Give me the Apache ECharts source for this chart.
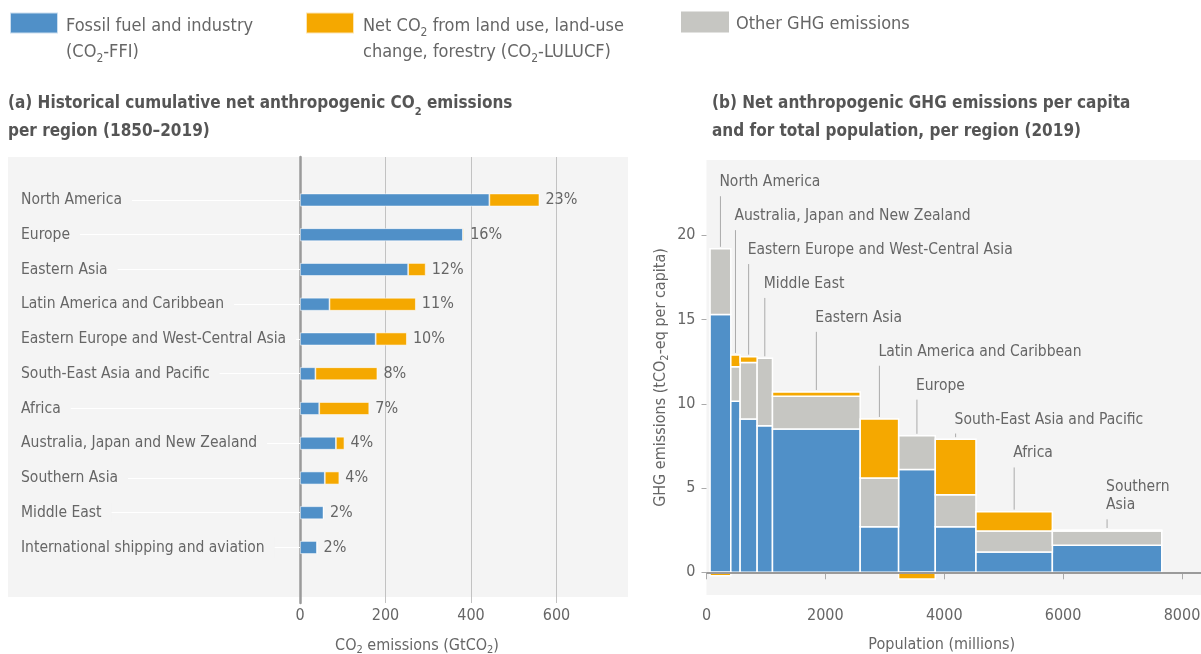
<!DOCTYPE html>
<html>
<head>
<meta charset="utf-8">
<script src="https://cdn.jsdelivr.net/npm/echarts@6/dist/echarts.min.js"></script>
<style>
  html, body { margin: 0; padding: 0; background: #ffffff; }
  #chart { width: 1201px; height: 654px; }
</style>
</head>
<body>
<div id="chart"></div>
<script>
// ---------- Panel (a) data ----------
const regionsA = ['North America', 'Europe', 'Eastern Asia', 'Latin America and Caribbean',
  'Eastern Europe and West-Central Asia', 'South-East Asia and Pacific', 'Africa',
  'Australia, Japan and New Zealand', 'Southern Asia', 'Middle East', 'International shipping and aviation'];
const ffiA = [443, 381, 253, 69, 177, 36, 45, 84, 58, 55, 40];       // GtCO2
const lulucfA = [117, 3, 41, 202, 73, 145, 117, 20, 34, 0, 0];       // GtCO2
const shareA = [23, 16, 12, 11, 10, 8, 7, 4, 4, 2, 2];               // % of total
const ticksA = [0, 200, 400, 600];

// ---------- Panel (b) data ----------
const regionsB = ['North America', 'Australia, Japan and New Zealand', 'Eastern Europe and West-Central Asia',
  'Middle East', 'Eastern Asia', 'Latin America and Caribbean', 'Europe', 'South-East Asia and Pacific',
  'Africa', 'Southern\nAsia'];
const populationB = [349, 157, 286, 258, 1476, 646, 617, 685, 1285, 1841];   // millions
const ffiB = [15.3, 10.15, 9.1, 8.7, 8.5, 2.7, 6.1, 2.7, 1.2, 1.6];           // tCO2-eq per capita
const otherB = [3.9, 2.05, 3.35, 4.0, 1.95, 2.9, 2.0, 1.9, 1.25, 0.85];
const lulucfB = [-0.2, 0.7, 0.35, 0.0, 0.25, 3.5, -0.4, 3.3, 1.15, 0.06];
const popStart = 60;          // population position where the first column begins
const xTicksB = [0, 2000, 4000, 6000, 8000];
const yTicksB = [0, 5, 10, 15, 20];

// ---------- styles ----------
const FONT = "'DejaVu Sans Condensed', 'DejaVu Sans', sans-serif";
const FS = 16;      // axis numbers
const FL = 15.5;    // region labels
const C_FFI = '#5090c8', C_LUC = '#f5a800', C_OTH = '#c6c6c2';
const TXT = '#666666';
const SUB = { fontSize: 11, lineHeight: 14, verticalAlign: 'bottom', fontFamily: FONT, color: TXT };

// ---------- panel (b) geometry from data ----------
let acc = popStart;
const colsB = populationB.map(p => { const a = acc; acc += p; return [a, acc]; });
const ffiRects = colsB.map((c, i) => [c[0], c[1], 0, ffiB[i]]);
const othRects = colsB.map((c, i) => [c[0], c[1], ffiB[i], ffiB[i] + otherB[i]]);
const lucRects = colsB.map((c, i) => lulucfB[i] >= 0
  ? [c[0], c[1], ffiB[i] + otherB[i], ffiB[i] + otherB[i] + lulucfB[i]]
  : [c[0], c[1], lulucfB[i], 0]);
const labelPts = colsB.map((c, i) => [(c[0] + c[1]) / 2, ffiB[i] + otherB[i] + Math.max(0, lulucfB[i]), i]);

function rectRenderer(color) {
  return function (params, api) {
    const a = api.coord([api.value(0), api.value(3)]);
    const b = api.coord([api.value(1), api.value(2)]);
    if (Math.abs(b[1] - a[1]) < 0.3) return null;
    return {
      type: 'rect',
      shape: { x: a[0], y: a[1], width: b[0] - a[0], height: b[1] - a[1] },
      style: { fill: color, stroke: '#ffffff', lineWidth: 1.5 }
    };
  };
}

const LABEL_TOP = 23.15, LABEL_STEP = 33.9, LINE_H = 18;
function labelRenderer(params, api) {
  const i = api.value(2);
  const p = api.coord([api.value(0), api.value(1)]);
  const base = api.coord([0, LABEL_TOP])[1];
  const ty = base + i * LABEL_STEP;
  const text = regionsB[i];
  const nLines = text.split('\n').length;
  return {
    type: 'group',
    children: [
      { type: 'line', shape: { x1: p[0], y1: ty + 14 + (nLines - 1) * LINE_H, x2: p[0], y2: p[1] - 2 },
        style: { stroke: '#aaaaaa', lineWidth: 1 } },
      { type: 'text', x: p[0] - 1, y: ty - LINE_H / 2,
        style: { text: text, fill: TXT, fontSize: FL, fontFamily: FONT, lineHeight: LINE_H,
                 align: 'left', verticalAlign: 'top' } }
    ]
  };
}

const legendNames = {
  ffi: '{gap| }\nFossil fuel and industry\n(CO{s|2}-FFI)',
  luc: '{gap| }\nNet CO{s|2} from land use, land-use\nchange, forestry (CO{s|2}-LULUCF)',
  oth: 'Other GHG emissions'
};
function legendOf(name, left, top, pad) {
  return {
    data: [name], left: left, top: top, padding: 0, itemWidth: 48, itemHeight: 21, icon: 'rect',
    selectedMode: false, formatter: n => legendNames[n],
    textStyle: { fontSize: 18, fontFamily: FONT, color: TXT, lineHeight: 26, padding: pad,
      rich: { s: { fontSize: 12, lineHeight: 17, verticalAlign: 'bottom', fontFamily: FONT, color: TXT },
              gap: { fontSize: 10, lineHeight: 32 } } }
  };
}

const titleStyle = {
  fontSize: 17, fontWeight: 'bold', fontFamily: FONT, color: '#555555', lineHeight: 28,
  rich: { s: { fontSize: 11, fontWeight: 'bold', lineHeight: 20, verticalAlign: 'bottom', fontFamily: FONT, color: '#555555' } }
};

const chart = echarts.init(document.getElementById('chart'), null, { renderer: 'canvas' });
chart.setOption({
  animation: false,
  backgroundColor: '#ffffff',
  title: [
    { text: '(a) Historical cumulative net anthropogenic CO{s|2} emissions\nper region (1850–2019)',
      left: 8, top: 90, padding: 0, textStyle: titleStyle },
    { text: '(b) Net anthropogenic GHG emissions per capita\nand for total population, per region (2019)',
      left: 712, top: 90, padding: 0, textStyle: titleStyle }
  ],
  legend: [legendOf('ffi', 9, -19, [0, 0, 0, 3]), legendOf('luc', 305, -19, [0, 0, 0, 4]),
           legendOf('oth', 681, 7, [4, 0, 0, 2])],
  graphic: {
    z: -10,
    elements: [{ type: 'rect', z: -10, shape: { x: 8, y: 157, width: 620, height: 440 }, style: { fill: '#f4f4f4' } }]
  },
  grid: [
    { left: 300, top: 182.6, width: 342, height: 382.25, outerBoundsMode: 'none' },
    { left: 300, top: 157, width: 342, height: 446, outerBoundsMode: 'none' },
    { left: 706.5, top: 160, width: 494.5, height: 435, show: true, backgroundColor: '#f4f4f4', borderWidth: 0,
      outerBoundsMode: 'none' }
  ],
  xAxis: [
    { gridIndex: 0, type: 'value', min: 0, max: 800, show: false },
    { gridIndex: 1, type: 'value', min: 0, max: 800, interval: 200,
      axisLine: { show: false }, axisTick: { show: false },
      axisLabel: { customValues: ticksA, color: TXT, fontSize: FS, fontFamily: FONT, margin: 5 },
      splitLine: { show: true, lineStyle: { width: 1, color: ['#9a9a9a', '#c2c2c2', '#c2c2c2', '#c2c2c2', 'rgba(0,0,0,0)'] } },
      name: 'CO{s|2} emissions (GtCO{s|2})', nameLocation: 'middle', nameGap: 33,
      nameTextStyle: { fontSize: FS, fontFamily: FONT, color: TXT, lineHeight: 20, padding: [0, 108, 0, 0], rich: { s: SUB } } },
    { gridIndex: 2, type: 'value', min: 0, max: 8320,
      axisLine: { show: false },
      axisTick: { show: true, customValues: xTicksB, length: 7, lineStyle: { color: '#aaaaaa' } },
      axisLabel: { customValues: xTicksB, color: TXT, fontSize: FS, fontFamily: FONT, margin: 13,
                   formatter: v => String(v) },
      splitLine: { show: false },
      name: 'Population (millions)', nameLocation: 'middle', nameGap: 42,
      nameTextStyle: { fontSize: FS, fontFamily: FONT, color: TXT, padding: [0, 24, 0, 0] } }
  ],
  yAxis: [
    { gridIndex: 0, type: 'category', data: regionsA, inverse: true,
      axisLine: { show: false },
      axisTick: { show: true, alignWithLabel: true, length: 279, lineStyle: { color: '#ffffff', width: 1 } },
      axisLabel: { align: 'left', margin: 279, color: TXT, fontSize: FL, fontFamily: FONT,
                   backgroundColor: '#f4f4f4', padding: [2, 10, 2, 0] } },
    { gridIndex: 1, type: 'value', min: 0, max: 1,
      axisLine: { show: true, lineStyle: { color: '#9a9a9a', width: 2.5 } },
      axisTick: { show: false }, axisLabel: { show: false }, splitLine: { show: false } },
    { gridIndex: 2, type: 'value', min: -1.347, max: 24.47,
      axisLine: { show: false },
      axisTick: { show: true, customValues: yTicksB, length: 5, lineStyle: { color: '#aaaaaa' } },
      axisLabel: { customValues: yTicksB, color: TXT, fontSize: FS, fontFamily: FONT, margin: 11 },
      splitLine: { show: false },
      name: 'GHG emissions (tCO{s|2}-eq per capita)', nameLocation: 'middle', nameGap: 36,
      nameTextStyle: { fontSize: FS, fontFamily: FONT, color: TXT, lineHeight: 20, rich: { s: SUB } } }
  ],
  series: [
    { name: 'ffi', type: 'bar', xAxisIndex: 0, yAxisIndex: 0, stack: 'a', barWidth: 13, data: ffiA,
      itemStyle: { color: C_FFI, borderColor: 'rgba(255,255,255,0.7)', borderWidth: 0.8 } },
    { name: 'luc', type: 'bar', xAxisIndex: 0, yAxisIndex: 0, stack: 'a', barWidth: 13, data: lulucfA,
      itemStyle: { color: C_LUC, borderColor: 'rgba(255,255,255,0.7)', borderWidth: 0.8 },
      label: { show: true, position: 'right', distance: 6, color: TXT, fontSize: FS, fontFamily: FONT,
               formatter: p => shareA[p.dataIndex] + '%' } },
    { name: 'ffi', type: 'custom', xAxisIndex: 2, yAxisIndex: 2, data: ffiRects, renderItem: rectRenderer(C_FFI),
      encode: { x: [0, 1], y: [2, 3] }, itemStyle: { color: C_FFI },
      markLine: { silent: true, symbol: ['none', 'none'], label: { show: false },
                  lineStyle: { color: '#9a9a9a', width: 2, type: 'solid' }, data: [{ yAxis: 0 }] } },
    { name: 'oth', type: 'custom', xAxisIndex: 2, yAxisIndex: 2, data: othRects, renderItem: rectRenderer(C_OTH),
      encode: { x: [0, 1], y: [2, 3] }, itemStyle: { color: C_OTH } },
    { name: 'luc', type: 'custom', xAxisIndex: 2, yAxisIndex: 2, data: lucRects, renderItem: rectRenderer(C_LUC),
      encode: { x: [0, 1], y: [2, 3] }, itemStyle: { color: C_LUC } },
    { name: 'labels', type: 'custom', xAxisIndex: 2, yAxisIndex: 2, data: labelPts, renderItem: labelRenderer,
      encode: { x: 0, y: 1 }, clip: false, silent: true }
  ]
});
</script>
</body>
</html>
